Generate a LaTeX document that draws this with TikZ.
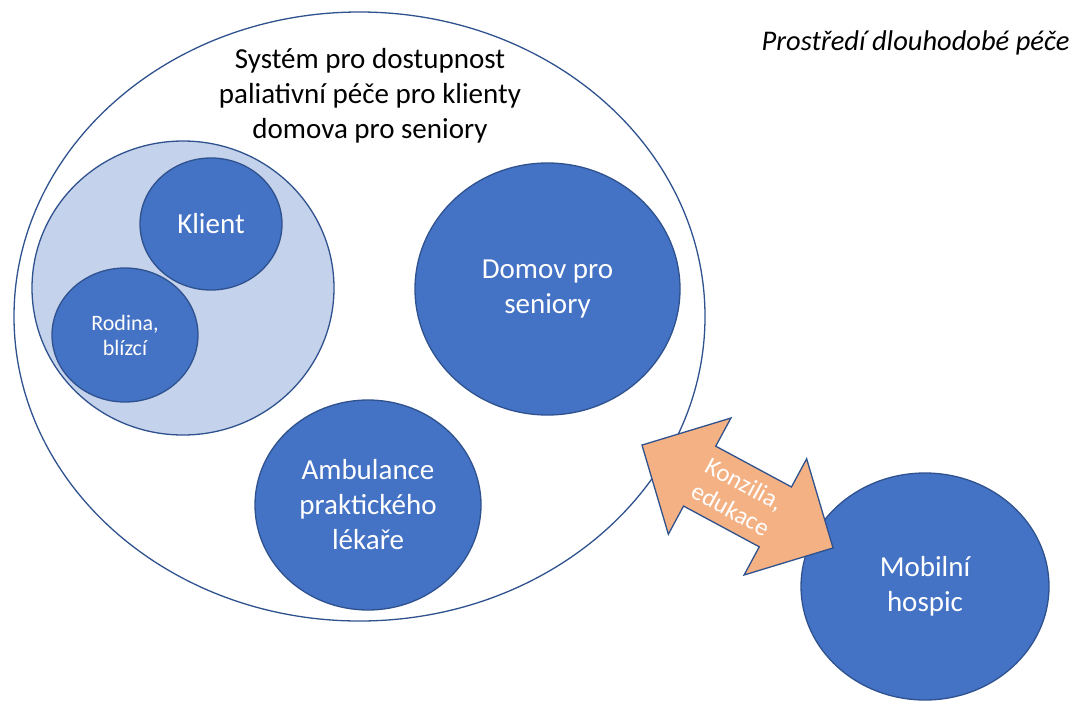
\documentclass[tikz,border=0pt]{standalone}
\usepackage{fontspec}
\setmainfont{Carlito}
\usetikzlibrary{shapes.geometric}
\definecolor{accentblue}{HTML}{4472C4}
\definecolor{edgeblue}{HTML}{2F528F}
\definecolor{paleblue}{HTML}{C5D2EB}
\definecolor{peach}{HTML}{F4B183}
\tikzset{
  bubble/.style={ellipse, draw=edgeblue, line width=1.3pt, fill=accentblue,
    text=white, align=center, inner sep=0pt,
    font=\fontsize{29}{35}\selectfont},
  frame/.style={ellipse, draw=edgeblue, line width=1.3pt, inner sep=0pt},
  caption/.style={align=center, text=black, font=\fontsize{29}{35}\selectfont},
}
\begin{document}
\begin{tikzpicture}[x=1pt, y=-1pt]
  \useasboundingbox (0,0) rectangle (1083,702);

  % outer system boundary
  \node[frame, fill=white, minimum width=691pt, minimum height=609pt] (system) at (359.5,316.5) {};
  \node[caption] (title) at (370,96) {Systém pro dostupnost\\paliativní péče pro klienty\\domova pro seniory};

  % environment label
  \node[anchor=base, font=\fontsize{28.5}{34}\selectfont\itshape] (env) at (915.5,50) {Prostředí dlouhodobé péče};

  % client group
  \node[frame, fill=paleblue, minimum width=302pt, minimum height=294pt] (group) at (183,288) {};
  \node[bubble, minimum width=142pt, minimum height=132pt] (klient) at (211,224) {Klient};
  \node[bubble, minimum width=146pt, minimum height=134pt, font=\fontsize{22}{25}\selectfont] (rodina) at (125,335) {Rodina,\\blízcí};

  % care providers
  \node[bubble, minimum width=265pt, minimum height=252pt] (domov) at (547.5,289) {Domov pro\\seniory};
  \node[bubble, minimum width=226pt, minimum height=210pt] (ambulance) at (368,505) {Ambulance\\praktického\\lékaře};
  \node[bubble, minimum width=248pt, minimum height=227pt] (hospic) at (925,586.5) {Mobilní\\hospic};

  % two-way exchange arrow
  \begin{scope}[shift={(737.5,496.5)}, rotate=-28.3]
    \draw[draw=edgeblue, line width=1.3pt, fill=peach, line join=miter]
      (-108.5,0) -- (-43,-66) -- (-43,-34) -- (43,-34) -- (43,-66) -- (108.5,0)
      -- (43,66) -- (43,34) -- (-43,34) -- (-43,66) -- cycle;
  \end{scope}
  \node[rotate=-28.3, align=center, text=white, font=\fontsize{25}{29}\selectfont] (exchange) at (737.5,496.5) {Konzilia,\\edukace};
\end{tikzpicture}
\end{document}
